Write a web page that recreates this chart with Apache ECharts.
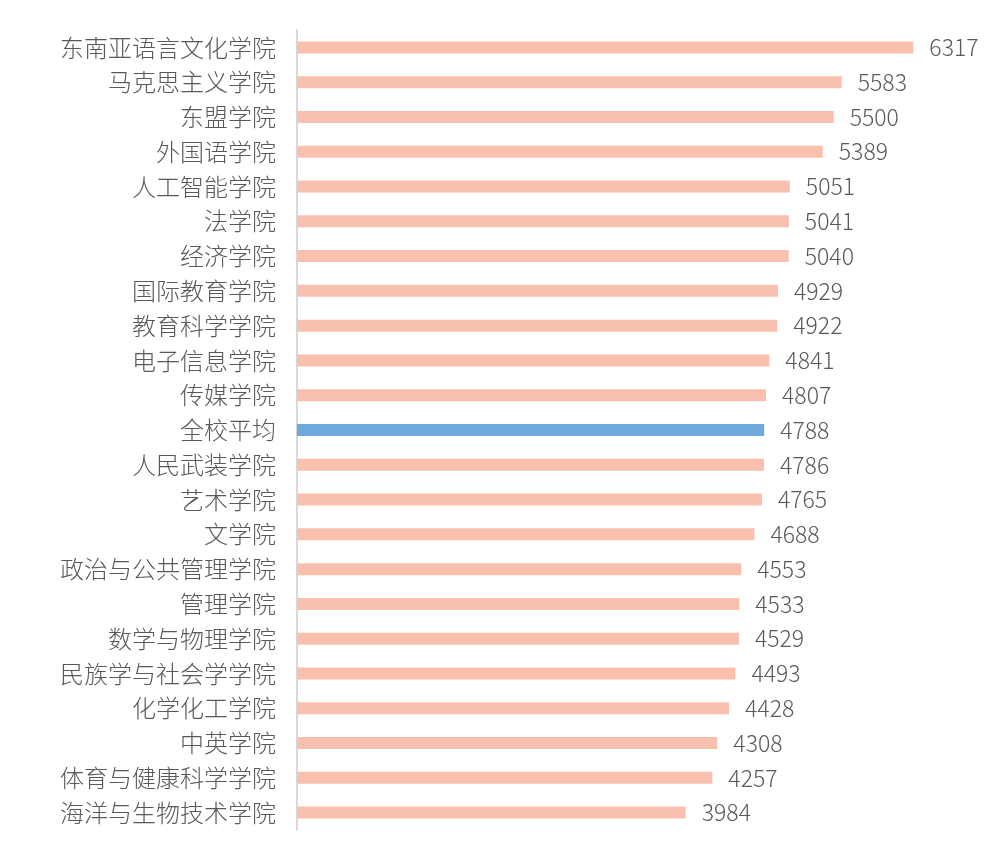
<!DOCTYPE html>
<html>
<head>
<meta charset="utf-8">
<script src="https://cdn.jsdelivr.net/npm/echarts@6/dist/echarts.min.js"></script>
<style>
  html, body { margin: 0; padding: 0; background: #fff; }
  #chart { width: 1002px; height: 855px; }
</style>
</head>
<body>
<div id="chart"></div>
<script>
// 学院列表（自上而下）
const colleges = ['东南亚语言文化学院','马克思主义学院','东盟学院','外国语学院','人工智能学院','法学院','经济学院','国际教育学院','教育科学学院','电子信息学院','传媒学院','全校平均','人民武装学院','艺术学院','文学院','政治与公共管理学院','管理学院','数学与物理学院','民族学与社会学学院','化学化工学院','中英学院','体育与健康科学学院','海洋与生物技术学院'];
const values = [6317,5583,5500,5389,5051,5041,5040,4929,4922,4841,4807,4788,4786,4765,4688,4553,4533,4529,4493,4428,4308,4257,3984];
const highlightName = '全校平均';

const chart = echarts.init(document.getElementById('chart'));
chart.setOption({
    backgroundColor: '#fff',
    animation: false,
    grid: { left: 297, top: 30, height: 800, right: 22 },
    xAxis: { type: 'value', min: 0, max: 7000, show: false },
    yAxis: {
        type: 'category', data: colleges, inverse: true,
        axisLine: { show: true, lineStyle: { color: '#d9d9d9', width: 2 } },
        axisTick: { show: false },
        axisLabel: { color: '#595959', fontSize: 24, margin: 21, fontWeight: 300, fontFamily: '"Noto Sans CJK SC", sans-serif' }
    },
    series: [{
        type: 'bar', barWidth: 12,
        data: values.map((v, i) => ({ value: v, itemStyle: { color: colleges[i] === highlightName ? '#6fa8dc' : '#f9c0ad' } })),
        label: { show: true, position: 'right', distance: 16, color: '#595959', fontSize: 23, fontWeight: 300, fontFamily: '"Noto Sans CJK SC", sans-serif' }
    }]
});
</script>
</body>
</html>
